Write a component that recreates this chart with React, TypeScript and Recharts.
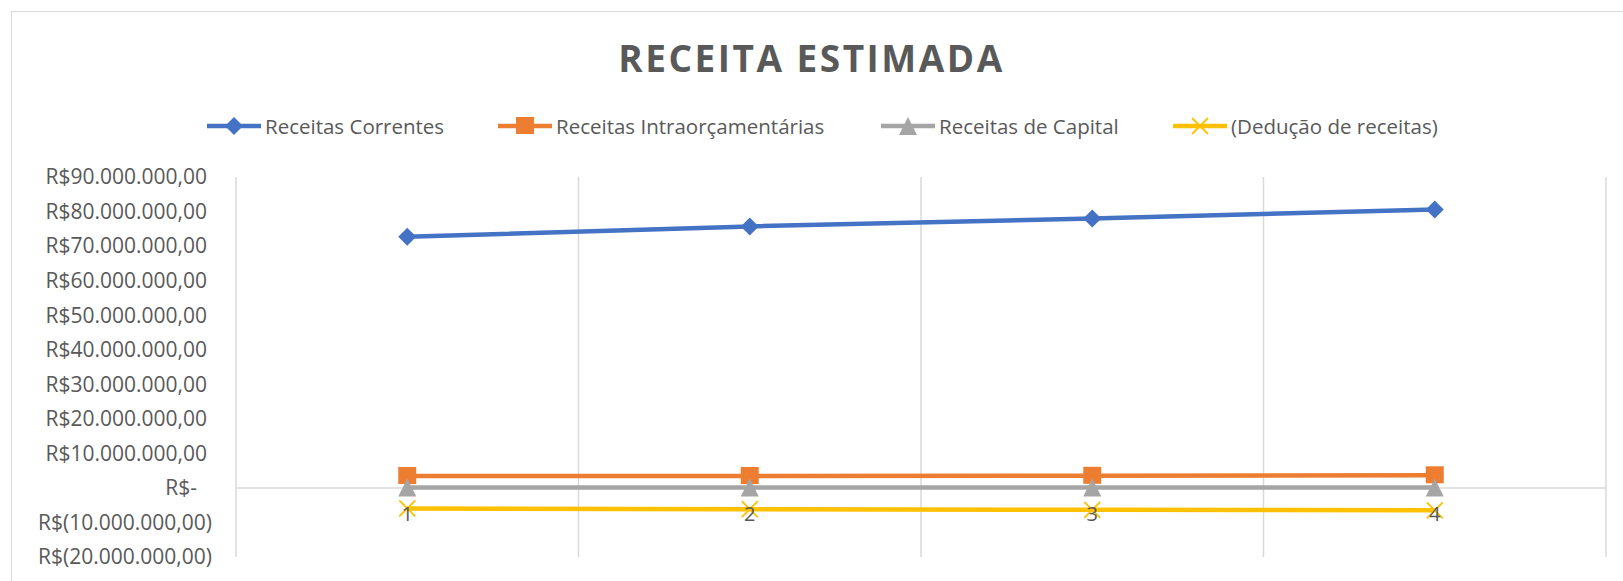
/*
 * ReceitaEstimada — line chart of estimated revenue by year index
 * Excel-like look: gray labels, category gridlines, zero axis line
 */

import React from "react";
import { LineChart, Line, XAxis, YAxis, ReferenceLine } from "recharts";

const categories = ["1", "2", "3", "4"];
const receitasCorrentes = [72700000, 75700000, 78000000, 80600000];
const receitasIntra = [3450000, 3450000, 3500000, 3650000];
const receitasCapital = [100000, 100000, 100000, 100000];
const deducao = [-5950000, -6150000, -6350000, -6500000];
const yTicks = [-20000000, -10000000, 0, 10000000, 20000000, 30000000, 40000000, 50000000, 60000000, 70000000, 80000000, 90000000];

const BLUE = "#4472C4";
const ORANGE = "#ED7D31";
const GRAY = "#A5A5A5";
const YELLOW = "#FFC000";
const TEXT = "#595959";
const GRID = "#d9d9d9";
const FONT = "'Open Sans', sans-serif";

const data = categories.map((c, i) => ({
  x: i + 1,
  label: c,
  correntes: receitasCorrentes[i],
  intra: receitasIntra[i],
  capital: receitasCapital[i],
  deducao: deducao[i],
}));

const boundaries = [...categories.map((_, i) => i + 0.5), categories.length + 0.5];

function formatBRL(v: number) {
  if (v === 0) return "R$-";
  const s = Math.abs(v).toLocaleString("pt-BR", { minimumFractionDigits: 2, maximumFractionDigits: 2 });
  return v < 0 ? `R$(${s})` : `R$${s}`;
}

type Shape = "diamond" | "square" | "triangle" | "x";

function Marker({ shape, cx, cy, color }: { shape: Shape; cx: number; cy: number; color: string }) {
  if (shape === "diamond")
    return <polygon points={`${cx},${cy - 9} ${cx + 9},${cy} ${cx},${cy + 9} ${cx - 9},${cy}`} fill={color} />;
  if (shape === "square") return <rect x={cx - 9} y={cy - 9} width={18} height={17} fill={color} />;
  if (shape === "triangle")
    return <polygon points={`${cx},${cy - 9} ${cx + 9},${cy + 9} ${cx - 9},${cy + 9}`} fill={color} />;
  return (
    <g stroke={color} strokeWidth={1.8}>
      <line x1={cx - 8} y1={cy - 8} x2={cx + 8} y2={cy + 8} />
      <line x1={cx - 8} y1={cy + 8} x2={cx + 8} y2={cy - 8} />
    </g>
  );
}

const series = [
  { key: "correntes", name: "Receitas Correntes", color: BLUE, shape: "diamond" as Shape, width: 291 },
  { key: "intra", name: "Receitas Intraorçamentárias", color: ORANGE, shape: "square" as Shape, width: 383 },
  { key: "capital", name: "Receitas de Capital", color: GRAY, shape: "triangle" as Shape, width: 292 },
  { key: "deducao", name: "(Dedução de receitas)", color: YELLOW, shape: "x" as Shape, width: 290 },
];

const YTick = (props: any) => {
  const { x, y, payload } = props;
  const v = payload.value as number;
  const dx = v < 0 ? 5 : v === 0 ? -10 : 0;
  return (
    <text x={x + dx - 21} y={y} dy="0.35em" textAnchor="end" fill={TEXT} fontSize={21} fontFamily={FONT}>
      {formatBRL(v)}
    </text>
  );
};

const XTick = (props: any) => {
  const { x, y, payload } = props;
  return (
    <text x={x} y={y - 51} dy="0.35em" textAnchor="middle" fill={TEXT} fontSize={20} fontFamily={FONT}>
      {categories[payload.value - 1]}
    </text>
  );
};

export default function App() {
  return (
    <div
      style={{
        position: "absolute",
        left: 0,
        top: 0,
        width: 1623,
        height: 581,
        overflow: "hidden",
        background: "#fff",
        fontFamily: FONT,
      }}
    >
      <div
        style={{
          position: "absolute",
          left: 11,
          top: 11,
          width: 1660,
          height: 620,
          border: `1px solid ${GRID}`,
        }}
      />
      <div
        style={{
          position: "absolute",
          left: 0,
          top: 39,
          width: 1623,
          textAlign: "center",
          fontSize: 37,
          lineHeight: "37px",
          fontWeight: 700,
          letterSpacing: 2.5,
          color: TEXT,
        }}
      >
        RECEITA ESTIMADA
      </div>
      <div style={{ position: "absolute", left: 207, top: 111, display: "flex", alignItems: "center" }}>
        {series.map((s) => (
          <div key={s.key} style={{ width: s.width, display: "flex", alignItems: "center" }}>
            <svg width={54} height={30}>
              <line x1={0} y1={15} x2={54} y2={15} stroke={s.color} strokeWidth={4.5} />
              <Marker shape={s.shape} cx={27} cy={15} color={s.color} />
            </svg>
            <span style={{ marginLeft: 4, fontSize: 20.5, color: TEXT, whiteSpace: "nowrap" }}>{s.name}</span>
          </div>
        ))}
      </div>
      <LineChart
        width={1623}
        height={581}
        data={data}
        margin={{ top: 177, right: 17, bottom: 0, left: 0 }}
        style={{ position: "absolute", left: 0, top: 0 }}
      >
        <XAxis
          type="number"
          dataKey="x"
          domain={[0.5, categories.length + 0.5]}
          ticks={data.map((d) => d.x)}
          axisLine={false}
          tickLine={false}
          tick={<XTick />}
          height={24}
          interval={0}
        />
        <YAxis
          domain={[yTicks[0], yTicks[yTicks.length - 1]]}
          ticks={yTicks}
          axisLine={false}
          tickLine={false}
          width={236}
          tick={<YTick />}
          interval={0}
        />
        {boundaries.map((b) => (
          <ReferenceLine key={b} x={b} stroke={GRID} strokeWidth={1.5} ifOverflow="extendDomain" />
        ))}
        <ReferenceLine y={0} stroke={GRID} strokeWidth={1.5} />
        {series.map((s) => (
          <Line
            key={s.key}
            type="linear"
            dataKey={s.key}
            name={s.name}
            stroke={s.color}
            strokeWidth={4.5}
            isAnimationActive={false}
            dot={(p: any) => (
              <Marker key={`${s.key}-${p.index}`} shape={s.shape} cx={p.cx} cy={p.cy} color={s.color} />
            )}
            activeDot={false}
          />
        ))}
      </LineChart>
    </div>
  );
}
